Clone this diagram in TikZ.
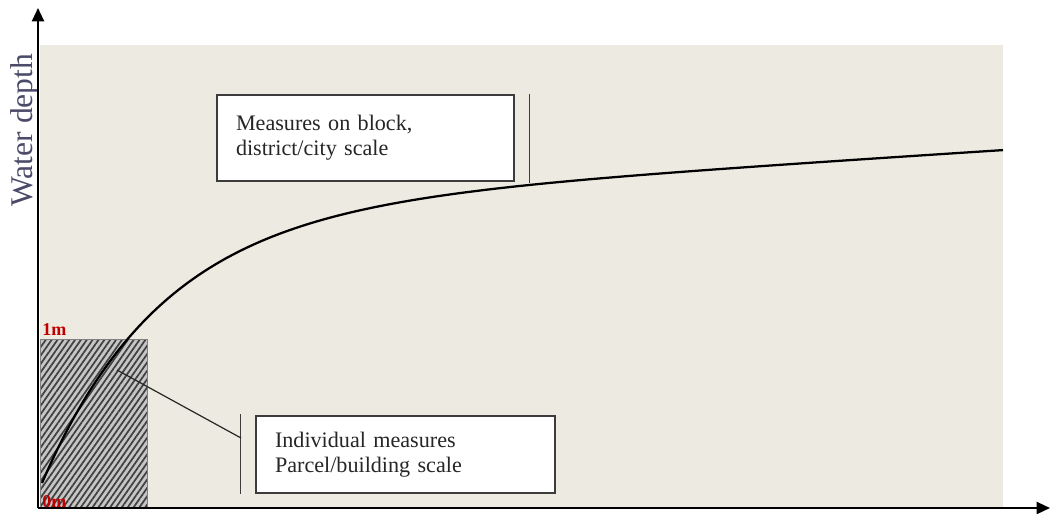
\documentclass[tikz,border=0pt]{standalone}
\usepackage{fontspec}
\setmainfont{Liberation Serif}
\usetikzlibrary{arrows.meta,patterns.meta,calc}
\definecolor{bgbeige}{RGB}{236,234,225}
\definecolor{axislabel}{RGB}{75,75,105}
\definecolor{darkred}{RGB}{192,0,0}
\definecolor{boxedge}{RGB}{60,60,60}
\begin{document}
\begin{tikzpicture}[x=0.75pt,y=-0.75pt,
  axisline/.style={line width=1.7pt,-{Triangle[length=10pt,width=9pt]}},
  infobox/.style={draw=boxedge,line width=0.9pt,fill=white,align=left,inner xsep=14.25pt,
    font=\fontsize{16.6}{18.75}\selectfont,text=black!85},
  bracketline/.style={draw=boxedge,line width=0.9pt},
  leader/.style={draw=black!85,line width=0.9pt},
  depthlabel/.style={text=darkred,font=\bfseries\fontsize{13.5}{15}\selectfont,inner sep=0pt},
  curveline/.style={line width=1.7pt,black}]
\useasboundingbox (0,0) rectangle (1050,514);
% background
\fill[bgbeige] (40,45) rectangle (1003,508);
% hatched area
\fill[gray!45] (40,339) rectangle (147,508);
\path[pattern={Lines[angle=55,distance=3.6pt,line width=1.3pt]},pattern color=black!75] (40,339) rectangle (147,508);
\draw[gray,line width=0.6pt] (40,339) rectangle (147,508);
% curve
\draw[curveline] plot[domain=42:1003,samples=240,smooth] (\x,{483-271.5*(1-exp(-(\x-42)/120))-0.064*(\x-42)});
% boxes
\node[infobox,minimum width=222.75pt,minimum height=64.5pt,text width=194.25pt] (b1) at (365.5,138) {Measures on block,\\district/city scale};
\node[infobox,minimum width=224.25pt,minimum height=57.75pt,text width=195.75pt] (b2) at (405.5,454.5) {Individual measures\\Parcel/building scale};
% brackets
\coordinate (b1top) at ($(b1.north east)+(15,0)$);
\coordinate (b1bot) at ($(b1.south east)+(15,1)$);
\draw[bracketline] (b1top) -- (b1bot);
\coordinate (b2top) at ($(b2.north west)+(-15,-1)$);
\coordinate (b2bot) at ($(b2.south west)+(-15,0)$);
\draw[bracketline] (b2top) -- (b2bot);
\coordinate (hatchpt) at (117,370);
\coordinate (b2hit) at (241,438);
\draw[leader] (hatchpt) -- (b2hit);
% labels
\node[depthlabel,anchor=base west] (l1) at (42,335) {1m};
\node[depthlabel,anchor=base west] (l0) at (42,507) {0m};
\node[rotate=90,anchor=base,text=axislabel,font=\fontsize{23.7}{27}\selectfont,inner sep=0pt] (ylab) at (32,130) {Water depth};
% axes
\coordinate (O) at (38,508);
\coordinate (Ytop) at (38,8);
\coordinate (Xend) at (1050,508);
\draw[axisline] (O) -- (Ytop);
\draw[axisline] (O) -- (Xend);
\end{tikzpicture}
\end{document}
